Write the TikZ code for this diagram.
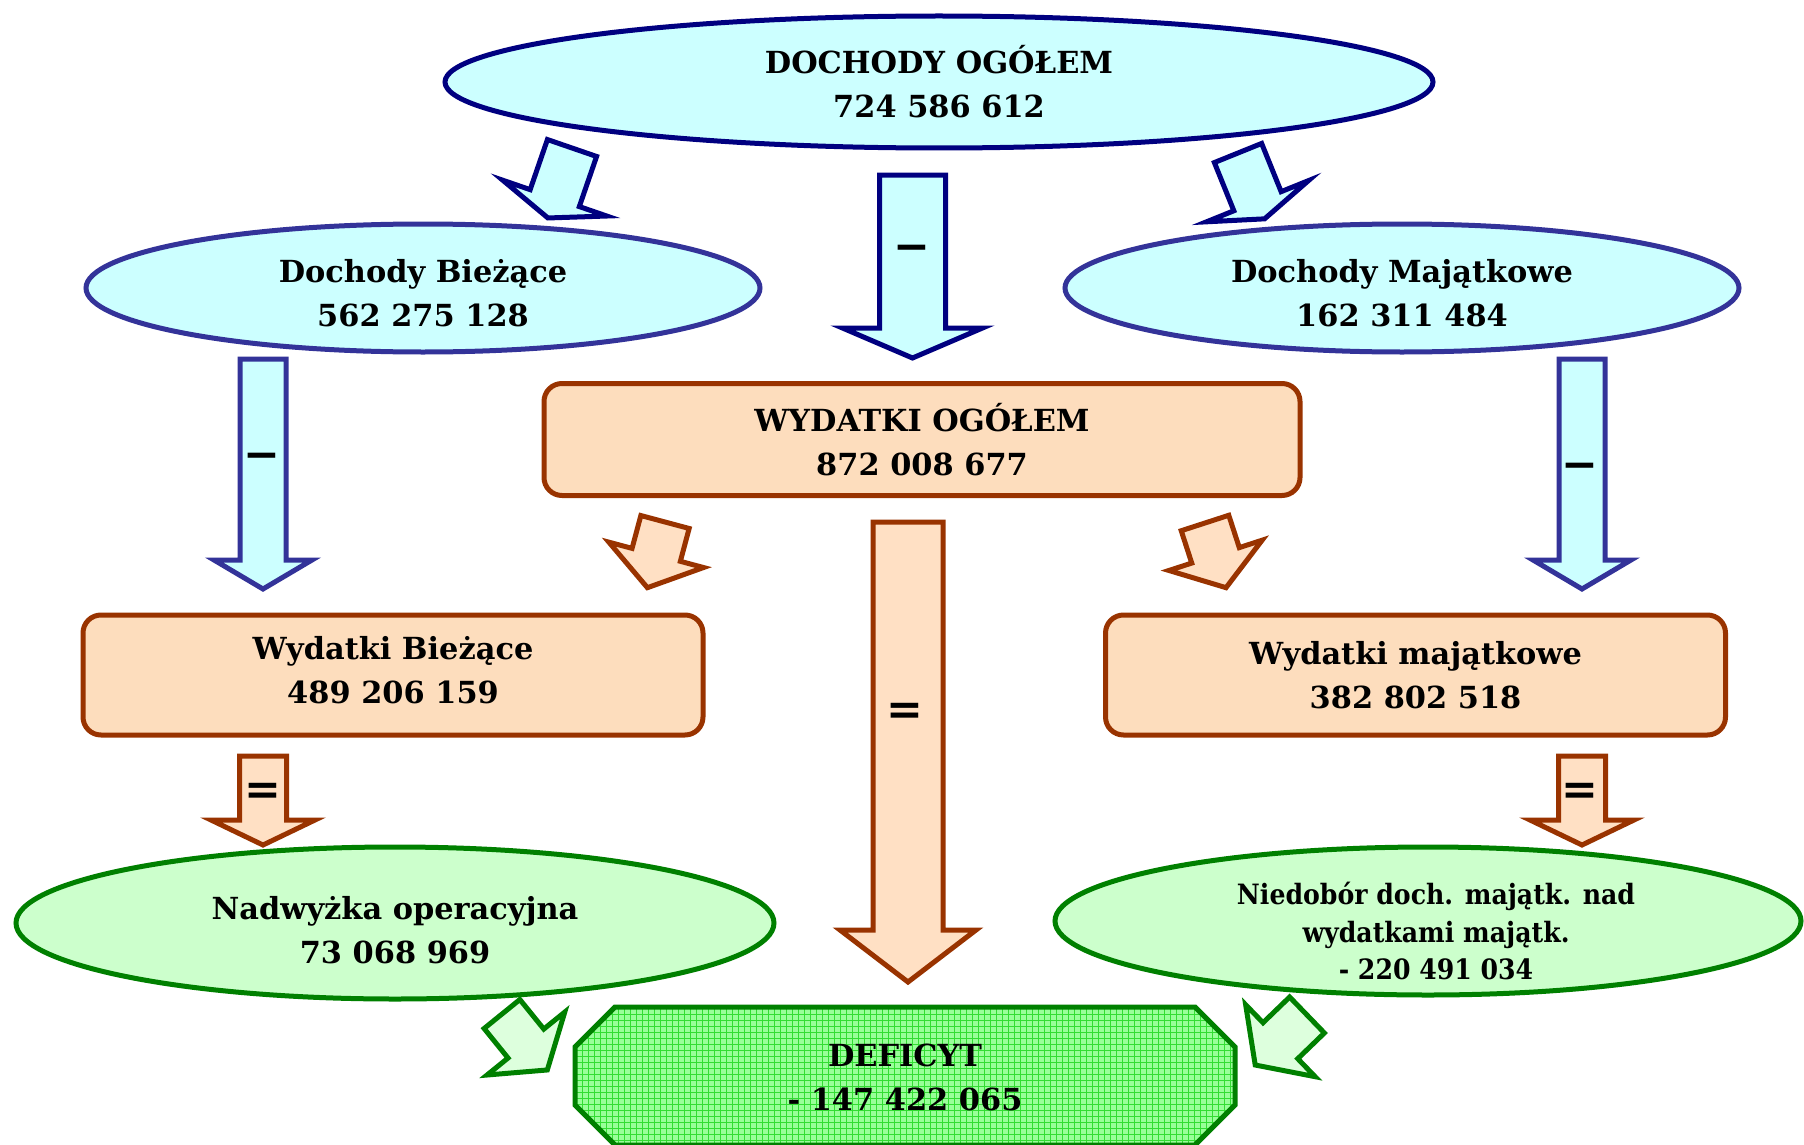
\documentclass[tikz,border=0pt]{standalone}
\usepackage{fontspec}
\setmainfont{DejaVu Serif}
\newfontfamily\symf{DejaVu Sans}
\newfontfamily\condf{DejaVu Serif Condensed}
\usetikzlibrary{shapes.geometric}
\definecolor{navyb}{HTML}{000080}
\definecolor{blueb}{HTML}{333399}
\definecolor{cyanf}{HTML}{CCFFFF}
\definecolor{orb}{HTML}{993300}
\definecolor{orf}{HTML}{FDDDBD}
\definecolor{orarf}{HTML}{FFE0C4}
\definecolor{gb}{HTML}{008000}
\definecolor{gf}{HTML}{CCFFCC}
\definecolor{garf}{HTML}{DDFFDD}
\definecolor{gdef}{HTML}{99FF99}
\definecolor{ggrid}{HTML}{33DD33}
% block arrow: style, tail x, tail y, angle, half shaft, shaft length, half head, head length
\newcommand{\barr}[8]{\draw[#1,shift={(#2,#3)},rotate=#4] (-#5,0) -- (#5,0) -- (#5,#6) -- (#7,#6) -- (0,#6+#8) -- (-#7,#6) -- (-#5,#6) -- cycle;}
\begin{document}
\begin{tikzpicture}[x=0.5pt,y=-0.5pt,
  txt/.style={font=\fontsize{15.2}{22}\selectfont\bfseries,align=center,text=black,inner sep=0pt},
  ell/.style={ellipse,inner sep=0pt,line width=2.5pt,txt},
  blueell/.style={ell,draw=blueb,fill=cyanf},
  orbox/.style={rectangle,rounded corners=9pt,inner sep=0pt,line width=2.5pt,draw=orb,fill=orf,txt},
  grell/.style={ell,draw=gb,fill=gf},
  barrnavy/.style={line width=2.5pt,line join=miter,draw=navyb,fill=cyanf},
  barrblue/.style={line width=2.5pt,line join=miter,draw=blueb,fill=cyanf},
  barror/.style={line width=2.5pt,line join=miter,draw=orb,fill=orarf},
  barrgr/.style={line width=2.5pt,line join=miter,draw=gb,fill=garf},
  sign/.style={font=\symf\bfseries\fontsize{22}{22}\selectfont,inner sep=0pt,text=black}]
\useasboundingbox (0,0) rectangle (1804,1145);

% shapes
\node[ell,draw=navyb,fill=cyanf,minimum width=494pt,minimum height=66pt] (dog) at (939,82) {DOCHODY OGÓŁEM\\724 586 612};
\node[blueell,minimum width=337pt,minimum height=64pt] (dbz) at (423,288) {};
\node[txt] (dbz-t) at (423,293) {Dochody Bieżące\\562 275 128};
\node[blueell,minimum width=337pt,minimum height=64pt] (dmj) at (1402,288) {};
\node[txt] (dmj-t) at (1402,293) {Dochody Majątkowe\\162 311 484};
\node[orbox,minimum width=378pt,minimum height=56pt] (wog) at (922,439.5) {WYDATKI OGÓŁEM\\872 008 677};
\node[orbox,minimum width=310pt,minimum height=60pt] (wbz) at (393,675) {};
\node[txt] (wbz-t) at (393,670.5) {Wydatki Bieżące\\489 206 159};
\node[orbox,minimum width=310pt,minimum height=60pt] (wmj) at (1415.5,675) {Wydatki majątkowe\\382 802 518};
\node[grell,minimum width=379pt,minimum height=76pt] (nadw) at (395,923) {};
\node[txt] (nadw-t) at (395,930) {Nadwyżka operacyjna\\73 068 969};
\node[grell,minimum width=373pt,minimum height=74pt] (nied) at (1428,921) {};
\node[txt,font=\condf\bfseries\fontsize{14}{18.7}\selectfont] (nied-t) at (1436,931) {Niedobór doch. majątk. nad\\wydatkami majątk.\\- 220 491 034};
\path[line width=2.5pt,draw=gb,fill=gdef,
      path picture={\draw[ggrid,line width=0.4pt,step=3pt] (path picture bounding box.south west) grid (path picture bounding box.north east);}]
  (615,1007) -- (1195,1007) -- (1235,1047) -- (1235,1105) -- (1195,1145) -- (615,1145) -- (575,1105) -- (575,1047) -- cycle;
\node[txt] (def) at (905,1077) {DEFICYT\\- 147 422 065};

% arrows
\barr{barrnavy}{572}{148}{-19}{26}{53}{55}{21}
\barr{barrnavy}{912.5}{175}{0}{33}{153}{70}{30}
\barr{barrnavy}{1238}{153}{22}{25.5}{52}{55}{19}
\barr{barrblue}{263}{359}{0}{23}{201}{49}{29}
\barr{barrblue}{1582}{359}{0}{23}{201}{49}{29}
\barr{barror}{908}{522}{0}{35}{408}{68}{52}
\barr{barror}{665}{522}{-15}{25}{34}{49}{34}
\barr{barror}{1205}{523}{18}{25}{34}{49}{34}
\barr{barror}{263}{756}{0}{23.5}{64}{52}{25}
\barr{barror}{1582}{756}{0}{23.5}{64}{52}{25}
\barr{barrgr}{502}{1014}{39}{23}{38}{50}{34}
\barr{barrgr}{1307}{1015}{-46}{25}{37}{50}{35}

% signs
\node[sign] (m1) at (912,253) {−};
\node[sign] (m2) at (262,461) {−};
\node[sign] (m3) at (1580,471) {−};
\node[sign] (e1) at (905,714) {=};
\node[sign] (e2) at (263,794) {=};
\node[sign] (e3) at (1580,794) {=};
\end{tikzpicture}
\end{document}
